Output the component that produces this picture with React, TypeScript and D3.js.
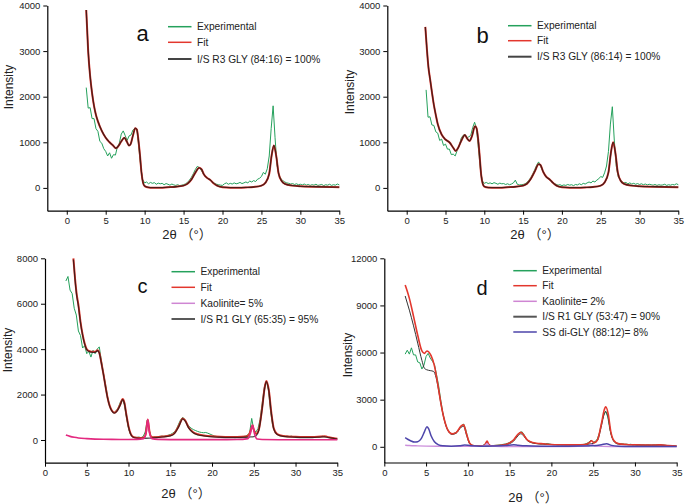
import React, { useRef, useEffect } from "react";
import * as d3 from "d3";

const W = 685, H = 504;
const FONT = "'Liberation Sans', Arial, 'Noto Sans CJK SC', sans-serif";

type Pt = [number, number];

// experimental scans, 2θ from 2.5° in 0.25° steps (one row = 2.5°)
const expStart = 2.5;
const expStep = 0.25;

const expA = [
  2200, 1750, 1760, 1520, 1520, 1300, 1240, 1020, 980, 860,
  800, 700, 770, 650, 730, 720, 900, 980, 1180, 1250,
  1150, 1040, 1140, 1160, 1270, 1300, 1290, 900, 450, 180,
  110, 130, 90, 120, 100, 115, 80, 105, 90, 100,
  70, 95, 80, 60, 85, 65, 55, 70, 50, 60,
  70, 90, 120, 170, 230, 310, 400, 470, 450, 390,
  320, 260, 220, 190, 160, 130, 100, 80, 70, 60,
  55, 90, 110, 80, 100, 85, 110, 90, 100, 120,
  95, 110, 130, 110, 150, 130, 160, 140, 190, 210,
  250, 340, 300, 420, 700, 1300, 1800, 1100, 500, 290,
  200, 160, 130, 110, 100, 85, 95, 75, 90, 70,
  80, 65, 85, 60, 75, 55, 70, 60, 80, 55,
  65, 75, 50, 70, 60, 80, 55, 70, 60, 85,
  65,
];

const expB = [
  2150, 1550, 1560, 1380, 1370, 1230, 1200, 1040, 1070, 930,
  960, 850, 850, 730, 740, 700, 820, 910, 1080, 1150,
  1170, 1100, 1120, 1150, 1320, 1440, 1300, 850, 400, 150,
  100, 120, 95, 110, 90, 115, 100, 80, 105, 90,
  95, 75, 90, 70, 85, 110, 170, 80, 65, 70,
  75, 90, 120, 170, 230, 310, 400, 500, 570, 480,
  380, 300, 240, 200, 170, 130, 100, 80, 60, 70,
  50, 65, 55, 75, 60, 70, 50, 75, 65, 90,
  70, 100, 85, 110, 130, 110, 150, 130, 170, 200,
  250, 230, 330, 480, 800, 1400, 1780, 1050, 480, 250,
  180, 140, 110, 120, 90, 110, 85, 100, 80, 95,
  75, 90, 70, 85, 65, 80, 70, 60, 75, 55,
  70, 60, 65, 80, 55, 70, 60, 75, 65, 90,
  70,
];

const expC = [
  7000, 7200, 6600, 6450, 5800, 5500, 4800, 4600, 4050, 4150,
  3800, 3900, 3650, 3950, 3800, 4000, 4100, 3500, 2950, 2450,
  1900, 1500, 1300, 1200, 1280, 1400, 1650, 1800, 1550, 1000,
  500, 230, 150, 120, 110, 130, 100, 150, 350, 880,
  400, 120, 130, 150, 140, 160, 170, 160, 190, 210,
  240, 290, 360, 480, 700, 900, 1000, 900, 720, 600,
  520, 460, 420, 380, 350, 330, 320, 330, 300, 260,
  220, 180, 160, 140, 150, 130, 140, 120, 130, 110,
  120, 100, 120, 110, 130, 150, 170, 220, 320, 950,
  450, 350, 500, 900, 1600, 2300, 2600, 2200, 1300, 650,
  380, 260, 220, 180, 200, 160, 180, 150, 170, 140,
  150, 130, 140, 120, 130, 110, 120, 130, 110, 130,
  140, 120, 150, 170, 140, 160, 110, 90, 80, 60,
  50,
];

const expD = [
  5900, 6150, 5900, 6300, 5850, 5850, 5400, 5350, 4950, 5200,
  5750, 5950, 5650, 5450, 5250, 4600, 3900, 3000, 2200, 1600,
  1200, 950, 850, 830, 900, 1000, 1150, 1350, 1450, 1100,
  550, 200, 100, 80, 60, 70, 50, 80, 150, 300,
  150, 70, 80, 90, 100, 120, 130, 160, 180, 220,
  280, 360, 480, 620, 800, 920, 950, 750, 500, 380,
  320, 260, 230, 210, 190, 180, 200, 170, 210, 180,
  150, 130, 140, 110, 120, 100, 110, 90, 100, 80,
  100, 90, 110, 100, 120, 140, 170, 220, 300, 420,
  300, 330, 500, 900, 1500, 2000, 2250, 1900, 1100, 600,
  350, 250, 210, 180, 200, 160, 170, 140, 160, 130,
  150, 120, 140, 110, 120, 100, 120, 110, 100, 120,
  110, 130, 140, 110, 100, 90, 80, 70, 60, 50,
  40,
];

// calculated patterns
const fitA: Pt[] = [
  [2.5, 3900], [2.75, 3000], [3, 2450], [3.25, 2080], [3.5, 1800], [3.75, 1600], [4, 1460],
  [4.5, 1250], [5, 1100], [5.5, 1000], [6, 920], [6.3, 870], [6.6, 910], [7, 1020], [7.4, 1100],
  [7.7, 1020], [8, 930], [8.2, 960], [8.5, 1150], [8.8, 1310], [9, 1280], [9.2, 1050], [9.4, 720],
  [9.6, 330], [9.8, 110], [10, 40], [10.5, 10], [11, 5], [12, 5], [13, 15], [14, 25], [15, 50],
  [15.5, 90], [16, 180], [16.5, 330], [17, 440], [17.3, 410], [17.6, 300], [18, 220], [18.4, 180],
  [18.8, 110], [19.3, 50], [20, 15], [21, 5], [22, 5], [23, 10], [24, 20], [25, 50], [25.5, 110],
  [26, 310], [26.3, 700], [26.6, 930], [26.9, 700], [27.2, 320], [27.6, 150], [28, 90], [29, 50],
  [30, 35], [32, 25], [35, 15],
];

const fitB: Pt[] = [
  [2.4, 3530], [2.6, 3050], [2.8, 2650], [3, 2400], [3.25, 2100], [3.5, 1820], [3.75, 1600],
  [4, 1400], [4.5, 1170], [5, 1060], [5.5, 1000], [6, 880], [6.3, 810], [6.6, 870], [7, 1020],
  [7.5, 1160], [7.8, 1080], [8.1, 1030], [8.4, 1130], [8.8, 1350], [9, 1310], [9.2, 1080],
  [9.4, 700], [9.6, 280], [9.8, 90], [10, 30], [10.5, 8], [11, 5], [12, 5], [13, 15], [14, 25],
  [15, 50], [15.5, 90], [16, 200], [16.5, 360], [17, 520], [17.2, 510], [17.6, 350], [18, 240],
  [18.4, 190], [18.8, 120], [19.3, 50], [20, 15], [21, 5], [22, 5], [23, 10], [24, 20], [25, 50],
  [25.5, 120], [26, 340], [26.3, 750], [26.6, 1000], [26.9, 760], [27.2, 340], [27.6, 150],
  [28, 90], [29, 50], [30, 35], [32, 25], [35, 15],
];

const fitC: Pt[] = [
  [3.4, 8000], [3.6, 7100], [3.8, 6400], [4, 5950], [4.25, 5200], [4.5, 4650], [4.75, 4250],
  [5, 4000], [5.25, 3920], [5.5, 3890], [6, 3880], [6.3, 3950], [6.5, 3850], [6.75, 3400],
  [7, 2900], [7.25, 2350], [7.5, 1850], [7.75, 1500], [8, 1300], [8.3, 1200], [8.6, 1280],
  [9, 1550], [9.3, 1800], [9.5, 1650], [9.75, 1100], [10, 600], [10.25, 280], [10.5, 150],
  [11, 100], [11.5, 90], [11.9, 120], [12.1, 350], [12.3, 900], [12.5, 400], [12.7, 150],
  [13, 120], [14, 150], [15, 200], [15.5, 300], [16, 600], [16.5, 950], [16.8, 850], [17.2, 550],
  [17.7, 350], [18.3, 250], [19, 200], [20, 160], [21, 140], [22, 130], [23, 130], [24, 150],
  [24.4, 220], [24.7, 500], [24.85, 650], [25, 450], [25.3, 280], [25.6, 450], [26, 1400],
  [26.3, 2300], [26.5, 2600], [26.8, 2200], [27.1, 1200], [27.4, 500], [27.8, 260], [28.5, 180],
  [30, 140], [31, 130], [32, 130], [33, 150], [33.5, 160], [34, 120], [35, 50],
];

const isC: Pt[] = [
  [3.4, 7950], [3.6, 7050], [3.8, 6350], [4, 5900], [4.25, 5170], [4.5, 4620], [4.75, 4220],
  [5, 3980], [5.25, 3900], [5.5, 3870], [6, 3860], [6.3, 3930], [6.5, 3830], [6.75, 3380],
  [7, 2880], [7.25, 2330], [7.5, 1830], [7.75, 1480], [8, 1280], [8.3, 1180], [8.6, 1260],
  [9, 1530], [9.3, 1780], [9.5, 1630], [9.75, 1080], [10, 580], [10.25, 260], [10.5, 130],
  [11, 80], [11.5, 70], [12, 75], [12.5, 80], [13, 95], [14, 130], [15, 180], [15.5, 280],
  [16, 580], [16.5, 930], [16.8, 830], [17.2, 530], [17.7, 330], [18.3, 230], [19, 180],
  [20, 140], [21, 120], [22, 110], [23, 110], [24, 120], [24.5, 130], [25, 150], [25.3, 200],
  [25.6, 420], [26, 1370], [26.3, 2270], [26.5, 2570], [26.8, 2170], [27.1, 1180], [27.4, 480],
  [27.8, 240], [28.5, 160], [30, 120], [31, 110], [32, 110], [33, 130], [33.5, 140], [34, 100],
  [35, 40],
];

const kaoC: Pt[] = [
  [2.5, 220], [3, 160], [3.5, 120], [4, 90], [5, 60], [6, 40], [7, 30], [8, 25], [9, 22], [10, 20],
  [11, 25], [11.8, 60], [12.1, 300], [12.3, 900], [12.5, 350], [12.8, 60], [13.5, 25], [15, 18],
  [18, 15], [21, 15], [23, 20], [24.3, 60], [24.6, 300], [24.85, 650], [25.1, 250], [25.4, 40],
  [26, 20], [28, 12], [31, 10], [35, 8],
];

const fitD: Pt[] = [
  [2.5, 10300], [2.75, 9900], [3, 9450], [3.5, 8300], [4, 7100], [4.5, 6100], [4.8, 5950],
  [5.1, 6100], [5.3, 6050], [5.6, 5800], [6, 5150], [6.35, 4150], [6.75, 2850], [7.15, 1800],
  [7.6, 1070], [8.1, 820], [8.6, 900], [9.2, 1330], [9.5, 1400], [9.8, 900], [10.2, 250],
  [10.6, 80], [11, 50], [11.8, 60], [12.1, 180], [12.3, 370], [12.5, 160], [12.8, 60], [13.5, 80],
  [14.5, 150], [15, 250], [15.5, 450], [16, 800], [16.35, 930], [16.7, 750], [17.1, 450],
  [17.5, 320], [18.2, 230], [19, 190], [20, 150], [21, 130], [22, 120], [23, 120], [24, 150],
  [24.5, 250], [24.8, 380], [25.1, 260], [25.5, 420], [26, 1500], [26.3, 2300], [26.5, 2550],
  [26.8, 2100], [27.1, 1000], [27.5, 380], [28, 200], [29, 150], [30, 130], [32, 110], [33, 120],
  [34, 80], [35, 40],
];

const isD: Pt[] = [
  [2.5, 9600], [2.75, 9150], [3, 8700], [3.5, 7700], [4, 6600], [4.5, 5500], [4.8, 5000],
  [5.1, 4900], [5.5, 4850], [5.9, 4800], [6.2, 4400], [6.5, 3600], [6.75, 2800], [7.15, 1760],
  [7.6, 1040], [8.1, 790], [8.6, 860], [9.2, 1250], [9.5, 1300], [9.8, 820], [10.2, 200],
  [10.6, 50], [11, 30], [12, 35], [13, 50], [14, 90], [15, 200], [15.5, 370], [16, 700],
  [16.35, 830], [16.7, 680], [17.1, 400], [17.5, 280], [18.2, 200], [19, 170], [20, 140],
  [21, 120], [22, 110], [23, 110], [24, 130], [24.5, 170], [25, 220], [25.5, 380], [26, 1350],
  [26.3, 2050], [26.5, 2250], [26.8, 1850], [27.1, 900], [27.5, 330], [28, 170], [29, 130],
  [30, 110], [32, 100], [33, 110], [34, 70], [35, 30],
];

const ssD: Pt[] = [
  [2.5, 580], [2.8, 480], [3.2, 370], [3.6, 300], [4, 320], [4.4, 500], [4.8, 950], [5.1, 1280],
  [5.3, 1150], [5.6, 700], [6, 320], [6.5, 120], [7, 60], [8, 40], [9, 60], [9.6, 110], [10, 100],
  [10.5, 60], [11.5, 40], [13, 50], [14.5, 80], [15.5, 130], [16, 100], [17, 60], [19, 40],
  [22, 30], [25, 60], [26, 130], [26.6, 200], [27.2, 90], [28, 40], [30, 25], [35, 15],
];

const kaoD: Pt[] = [
  [2.5, 100], [3, 80], [4, 60], [5, 45], [7, 30], [9, 25], [11, 25], [12, 60], [12.3, 200],
  [12.6, 50], [14, 20], [18, 15], [22, 15], [24.4, 40], [24.85, 150], [25.2, 40], [27, 15],
  [30, 12], [35, 10],
];

const xMajor = [0, 5, 10, 15, 20, 25, 30, 35];
const xMinorAB = [-2.5, 2.5, 7.5, 12.5, 17.5, 22.5, 27.5, 32.5];
const xMinorCD = [2.5, 7.5, 12.5, 17.5, 22.5, 27.5, 32.5];

const GREEN = "#25a15c";
const RED = "#e3372d";
const DARK = "#111";
const KAO_LEG = "#cf86d3";
const KAO_C = "#e32a80";
const KAO_D = "#cc8fdb";
const BLUE = "#4d45aa";

const toPts = (vals: number[]): Pt[] => vals.map((v, i) => [expStart + i * expStep, v]);

type Series = { pts: Pt[]; color: string; width: number; opacity?: number; smooth?: boolean };
type Legend = { label: string; color: string; width?: number };

const panels = [
  {
    letter: "a", lx: 136.5, ly: 40.5, lsize: 22,
    xr: [47.3, 339.3], yr: [210.7, 5.5], xd: [-2.5, 35], yd: [-500, 4000],
    yMajor: [0, 1000, 2000, 3000, 4000], yMinor: [500, 1500, 2500, 3500], xMinor: xMinorAB,
    series: [
      { pts: toPts(expA), color: GREEN, width: 1, smooth: false },
      { pts: fitA, color: RED, width: 2 },
      { pts: fitA, color: DARK, width: 1.3, opacity: 0.72 },
    ] as Series[],
    legX: 168, legRows: [26.7, 42.3, 59],
    legend: [
      { label: "Experimental", color: GREEN },
      { label: "Fit", color: RED },
      { label: "I/S R3 GLY (84:16) = 100%", color: "#444", width: 2 },
    ] as Legend[],
    xlab: [187, 238.5], ylab: [13, 87],
  },
  {
    letter: "b", lx: 476.5, ly: 42.5, lsize: 22,
    xr: [387.3, 678.3], yr: [210.7, 5.5], xd: [-2.5, 35], yd: [-500, 4000],
    yMajor: [0, 1000, 2000, 3000, 4000], yMinor: [500, 1500, 2500, 3500], xMinor: xMinorAB,
    series: [
      { pts: toPts(expB), color: GREEN, width: 1, smooth: false },
      { pts: fitB, color: RED, width: 2 },
      { pts: fitB, color: DARK, width: 1.3, opacity: 0.72 },
    ] as Series[],
    legX: 508, legRows: [25.7, 40.7, 56.7],
    legend: [
      { label: "Experimental", color: GREEN },
      { label: "Fit", color: RED },
      { label: "I/S R3 GLY (86:14) = 100%", color: "#444", width: 2 },
    ] as Legend[],
    xlab: [535, 238.5], ylab: [353.5, 92],
  },
  {
    letter: "c", lx: 137.5, ly: 293.3, lsize: 20,
    xr: [45, 337.3], yr: [462.7, 258.3], xd: [0, 35], yd: [-1000, 8000],
    yMajor: [0, 2000, 4000, 6000, 8000], yMinor: [1000, 3000, 5000, 7000], xMinor: xMinorCD,
    series: [
      { pts: toPts(expC), color: GREEN, width: 1, smooth: false },
      { pts: fitC, color: RED, width: 2 },
      { pts: isC, color: DARK, width: 1.3, opacity: 0.72 },
      { pts: kaoC, color: KAO_C, width: 1.6 },
    ] as Series[],
    legX: 171.5, legRows: [271.7, 287.3, 303.3, 319],
    legend: [
      { label: "Experimental", color: GREEN },
      { label: "Fit", color: RED },
      { label: "Kaolinite= 5%", color: KAO_LEG },
      { label: "I/S R1 GLY (65:35) = 95%", color: "#222" },
    ] as Legend[],
    xlab: [186, 497.5], ylab: [12, 350],
  },
  {
    letter: "d", lx: 476.5, ly: 295, lsize: 20,
    xr: [384.3, 676.7], yr: [462.5, 258.3], xd: [0, 35], yd: [-1000, 12000],
    yMajor: [0, 3000, 6000, 9000, 12000], yMinor: [1500, 4500, 7500, 10500], xMinor: xMinorCD,
    series: [
      { pts: toPts(expD), color: GREEN, width: 1, smooth: false },
      { pts: isD, color: "#333", width: 1 },
      { pts: fitD, color: RED, width: 1.6 },
      { pts: kaoD, color: KAO_D, width: 1.4 },
      { pts: ssD, color: BLUE, width: 1.5 },
    ] as Series[],
    legX: 513.3, legRows: [270.7, 285.7, 301.3, 316.7, 332],
    legend: [
      { label: "Experimental", color: GREEN },
      { label: "Fit", color: RED },
      { label: "Kaolinite= 2%", color: KAO_LEG },
      { label: "I/S R1 GLY (53:47) = 90%", color: "#555", width: 2 },
      { label: "SS di-GLY (88:12)= 8%", color: BLUE },
    ] as Legend[],
    xlab: [533, 502], ylab: [352, 355],
  },
];

export default function App() {
  const svgRef = useRef<SVGSVGElement>(null);

  useEffect(() => {
    const svg = d3.select(svgRef.current);
    svg.selectAll("*").remove();

    panels.forEach((p) => {
      const x = d3.scaleLinear().domain(p.xd).range(p.xr);
      const y = d3.scaleLinear().domain(p.yd).range(p.yr);
      const g = svg.append("g");

      // curves
      p.series.forEach((s) => {
        const line = d3
          .line<Pt>()
          .x((d) => x(d[0]))
          .y((d) => y(d[1]))
          .curve(s.smooth === false ? d3.curveLinear : d3.curveMonotoneX);
        g.append("path")
          .attr("d", line(s.pts))
          .attr("fill", "none")
          .attr("stroke", s.color)
          .attr("stroke-width", s.width)
          .attr("stroke-opacity", s.opacity ?? 1)
          .attr("stroke-linejoin", "round");
      });

      // axes
      const xAxis = g.append("g").attr("transform", `translate(0,${p.yr[0]})`);
      xAxis.call(
        d3.axisBottom(x).tickValues(p.xMinor).tickSize(2.5).tickSizeOuter(0).tickFormat(() => "")
      );
      xAxis.call(
        d3.axisBottom(x).tickValues(xMajor).tickSize(4).tickSizeOuter(0).tickPadding(3).tickFormat(d3.format("d"))
      );

      const yAxis = g.append("g").attr("transform", `translate(${p.xr[0]},0)`);
      yAxis.call(
        d3.axisLeft(y).tickValues(p.yMinor).tickSize(2.5).tickSizeOuter(0).tickFormat(() => "")
      );
      yAxis.call(
        d3.axisLeft(y).tickValues(p.yMajor).tickSize(4).tickSizeOuter(0).tickPadding(3).tickFormat(d3.format("d"))
      );

      g.selectAll(".domain").attr("stroke", "#000").attr("stroke-width", 1.2);
      g.selectAll(".tick line").attr("stroke", "#000");
      g.selectAll(".tick text")
        .attr("font-family", FONT)
        .attr("font-size", 9.5)
        .attr("fill", "#222");

      // panel letter
      g.append("text")
        .attr("x", p.lx)
        .attr("y", p.ly)
        .attr("font-family", FONT)
        .attr("font-size", p.lsize)
        .attr("fill", "#111")
        .text(p.letter);

      // legend
      p.legend.forEach((l, i) => {
        const ly = p.legRows[i];
        g.append("line")
          .attr("x1", p.legX)
          .attr("x2", p.legX + 23.5)
          .attr("y1", ly)
          .attr("y2", ly)
          .attr("stroke", l.color)
          .attr("stroke-width", l.width ?? 1.5);
        g.append("text")
          .attr("x", p.legX + 29)
          .attr("y", ly + 3.6)
          .attr("font-family", FONT)
          .attr("font-size", 10.2)
          .attr("fill", "#222")
          .text(l.label);
      });

      // axis titles
      g.append("text")
        .attr("x", p.xlab[0])
        .attr("y", p.xlab[1])
        .attr("text-anchor", "middle")
        .attr("font-family", FONT)
        .attr("font-size", 13)
        .attr("fill", "#222")
        .text("2θ （°）");

      g.append("text")
        .attr("transform", `translate(${p.ylab[0]},${p.ylab[1]}) rotate(-90)`)
        .attr("text-anchor", "middle")
        .attr("font-family", FONT)
        .attr("font-size", 12)
        .attr("fill", "#222")
        .text("Intensity");
    });
  }, []);

  return (
    <svg
      ref={svgRef}
      width={W}
      height={H}
      style={{ position: "absolute", left: 0, top: 0, background: "#fff" }}
    />
  );
}
